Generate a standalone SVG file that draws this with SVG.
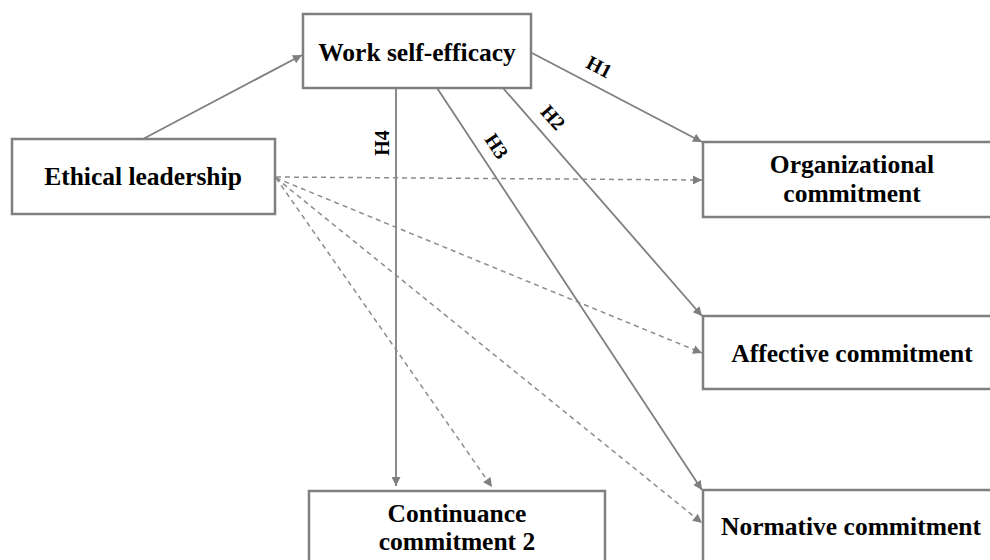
<svg xmlns="http://www.w3.org/2000/svg" width="990" height="560" viewBox="0 0 990 560">
<style>
.box{fill:#fff;stroke:#7f7f7f;stroke-width:2.5}
.t{font-family:"Liberation Serif","Times New Roman",serif;font-weight:bold;font-size:25.5px;fill:#000;text-anchor:middle}
.h{font-family:"Liberation Serif","Times New Roman",serif;font-weight:bold;font-size:20px;fill:#000;text-anchor:middle}
.c{stroke:#7f7f7f;stroke-width:1.8;fill:none;marker-end:url(#ah)}
.d{stroke:#8c8c8c;stroke-width:1.5;fill:none;stroke-dasharray:5 4;marker-end:url(#ah)}
</style>
<defs>
<marker id="ah" viewBox="0 0 10 10" refX="10" refY="5" markerWidth="11" markerHeight="9" markerUnits="userSpaceOnUse" orient="auto">
<path d="M0,0 L10,5 L0,10 z" fill="#7f7f7f"/>
</marker>
</defs>
<rect width="990" height="560" fill="#fff"/>
<g id="connectors">
<line class="c" x1="143" y1="139" x2="302" y2="55"/>
<line class="c" x1="532" y1="53" x2="702" y2="142"/>
<line class="c" x1="503" y1="88" x2="702" y2="316"/>
<line class="c" x1="437" y1="88" x2="702" y2="490"/>
<line class="c" x1="396" y1="88" x2="396" y2="486"/>
<line class="d" x1="276" y1="177" x2="702" y2="180"/>
<line class="d" x1="276" y1="178" x2="702" y2="353"/>
<line class="d" x1="276" y1="178" x2="702" y2="523"/>
<line class="d" x1="276" y1="178" x2="492" y2="487"/>
<text class="h" transform="translate(596,73) rotate(27.6)">H1</text>
<text class="h" transform="translate(548,122) rotate(48.7)">H2</text>
<text class="h" transform="translate(491,150) rotate(56.5)">H3</text>
<text class="h" transform="translate(389,143) rotate(-90)">H4</text>
</g>
<g id="ethical-leadership">
<rect class="box" x="12" y="139" width="263" height="75"/>
<text class="t" x="143" y="185">Ethical leadership</text>
</g>
<g id="work-self-efficacy">
<rect class="box" x="303" y="14" width="228" height="74"/>
<text class="t" x="417" y="61">Work self-efficacy</text>
</g>
<g id="organizational-commitment">
<rect class="box" x="703" y="142" width="300" height="75"/>
<text class="t" x="852" y="173">Organizational</text>
<text class="t" x="852" y="202">commitment</text>
</g>
<g id="affective-commitment">
<rect class="box" x="703" y="316" width="300" height="73"/>
<text class="t" x="852" y="362">Affective commitment</text>
</g>
<g id="continuance-commitment">
<rect class="box" x="309" y="491" width="296" height="80"/>
<text class="t" x="457" y="522">Continuance</text>
<text class="t" x="457" y="550">commitment 2</text>
</g>
<g id="normative-commitment">
<rect class="box" x="703" y="490" width="300" height="80"/>
<text class="t" x="851" y="535">Normative commitment</text>
</g>
</svg>
